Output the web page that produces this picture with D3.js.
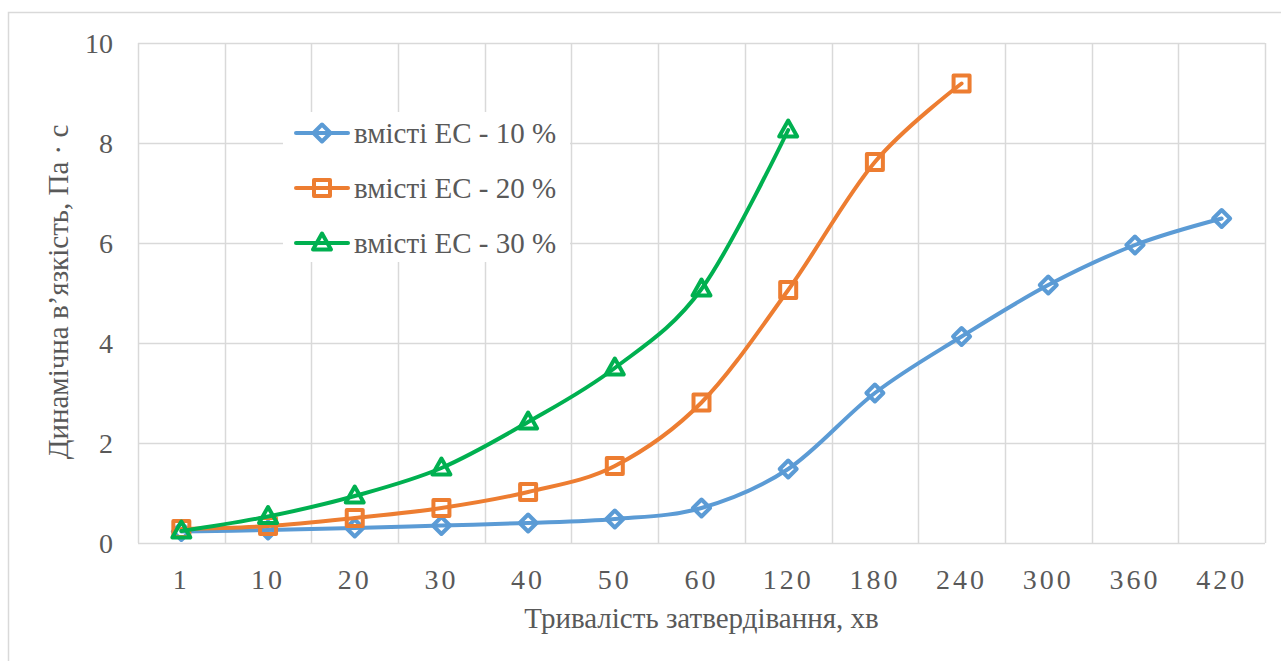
<!DOCTYPE html>
<html>
<head>
<meta charset="utf-8">
<script src="https://cdn.jsdelivr.net/npm/d3@7"></script>
<style>
  body { margin: 0; background: #fff; }
  svg text { font-family: "Liberation Serif", "DejaVu Serif", "Times New Roman", serif !important; fill: #595959; }
</style>
</head>
<body>
<div id="chart"></div>
<script>
// Chart data
var categories = ["1", "10", "20", "30", "40", "50", "60", "120", "180", "240", "300", "360", "420"];
var ec10 = [0.23, 0.26, 0.3, 0.35, 0.4, 0.48, 0.7, 1.48, 3.0, 4.13, 5.16, 5.96, 6.49];
var ec20 = [0.28, 0.34, 0.5, 0.7, 1.02, 1.54, 2.81, 5.06, 7.62, 9.19];
var ec30 = [0.24, 0.53, 0.94, 1.5, 2.42, 3.5, 5.08, 8.26];
var seriesNames = ["вмісті ЕС - 10 %", "вмісті ЕС - 20 %", "вмісті ЕС - 30 %"];
var yTicks = [0, 2, 4, 6, 8, 10];

var svgWidth = 1281;
var svgHeight = 661;

var margin = { top: 43, right: 16, bottom: 118, left: 138 };
var width = svgWidth - margin.left - margin.right;
var height = svgHeight - margin.top - margin.bottom;

var serif = '"Liberation Serif", "DejaVu Serif", serif';

var svg = d3.select("#chart")
  .append("svg")
  .attr("width", svgWidth)
  .attr("height", svgHeight)
  .attr("font-family", serif);

// outer chart border (only top and left fall inside the picture)
svg.append("path")
  .attr("d", "M8.5,661 L8.5,12.5 L1281,12.5")
  .attr("fill", "none")
  .attr("stroke", "#d9d9d9")
  .attr("stroke-width", 1.5);

var chartGroup = svg.append("g")
  .attr("transform", `translate(${margin.left}, ${margin.top})`);

// Scales
var xScale = d3.scaleBand()
  .domain(categories)
  .range([0, width])
  .padding(0);

var yScale = d3.scaleLinear()
  .domain([0, 10])
  .range([height, 0]);

// Gridlines
chartGroup.append("g")
  .selectAll("line")
  .data(yTicks)
  .enter()
  .append("line")
  .attr("x1", 0)
  .attr("x2", width)
  .attr("y1", d => Math.round(yScale(d)) + 0.5)
  .attr("y2", d => Math.round(yScale(d)) + 0.5)
  .attr("stroke", "#d9d9d9")
  .attr("stroke-width", 1.5);

var bounds = categories.map(c => xScale(c)).concat([width]);
chartGroup.append("g")
  .selectAll("line")
  .data(bounds)
  .enter()
  .append("line")
  .attr("x1", d => Math.round(d) + 0.5)
  .attr("x2", d => Math.round(d) + 0.5)
  .attr("y1", 0)
  .attr("y2", height)
  .attr("stroke", "#d9d9d9")
  .attr("stroke-width", 1.5);

// Axes (labels only)
var leftAxis = d3.axisLeft(yScale).tickValues(yTicks).tickSize(0).tickPadding(25);
var yAxisG = chartGroup.append("g").call(leftAxis).attr("font-family", serif);
yAxisG.select(".domain").remove();
yAxisG.selectAll("text")
  .style("font-size", "28px")
  .attr("dy", "0.34em");

var bottomAxis = d3.axisBottom(xScale).tickSize(0).tickPadding(26);
var xAxisG = chartGroup.append("g")
  .attr("transform", `translate(0, ${height})`)
  .call(bottomAxis)
  .attr("font-family", serif);
xAxisG.select(".domain").remove();
xAxisG.selectAll("text")
  .style("font-size", "28px")
  .style("letter-spacing", "3px")
  .attr("dy", "0.71em");

// Lines
var colors = ["#5b9bd5", "#ed7d31", "#00b050"];
var allSeries = [ec10, ec20, ec30];
var markerPaths = [
  "M0,-8.5L8.5,0L0,8.5L-8.5,0Z",
  "M-8,-8H8V8H-8Z",
  "M0,-9.5L9,6.5L-9,6.5Z"
];

var line = d3.line()
  .x((d, i) => xScale(categories[i]) + xScale.bandwidth() / 2)
  .y(d => yScale(d))
  .curve(d3.curveCatmullRom.alpha(0));

allSeries.forEach(function(values, s) {
  chartGroup.append("path")
    .datum(values)
    .attr("d", line)
    .attr("fill", "none")
    .attr("stroke", colors[s])
    .attr("stroke-width", 4)
    .attr("stroke-linecap", "round");

  chartGroup.selectAll(".m" + s)
    .data(values)
    .enter()
    .append("path")
    .attr("class", "m" + s)
    .attr("d", markerPaths[s])
    .attr("transform", (d, i) => `translate(${xScale(categories[i]) + xScale.bandwidth() / 2}, ${yScale(d)})`)
    .attr("fill", "none")
    .attr("stroke", colors[s])
    .attr("stroke-width", 4)
    .attr("stroke-linejoin", "round");
});

// Legend
var legend = svg.append("g");
legend.append("rect")
  .attr("x", 283)
  .attr("y", 112)
  .attr("width", 287)
  .attr("height", 150)
  .attr("fill", "#fff");

seriesNames.forEach(function(name, s) {
  var ly = 133 + s * 55;
  legend.append("line")
    .attr("x1", 296).attr("x2", 348)
    .attr("y1", ly).attr("y2", ly)
    .attr("stroke", colors[s])
    .attr("stroke-width", 4)
    .attr("stroke-linecap", "round");
  legend.append("path")
    .attr("d", markerPaths[s])
    .attr("transform", `translate(322, ${ly})`)
    .attr("fill", "none")
    .attr("stroke", colors[s])
    .attr("stroke-width", 4)
    .attr("stroke-linejoin", "round");
  legend.append("text")
    .attr("x", 354)
    .attr("y", ly)
    .attr("dy", "0.35em")
    .style("font-size", "29px")
    .text(name);
});

// Axis titles
svg.append("text")
  .attr("transform", `translate(68, ${margin.top + height / 2 - 1}) rotate(-90)`)
  .attr("text-anchor", "middle")
  .style("font-size", "29px")
  .text("Динамічна в’язкість, Па · с");

svg.append("text")
  .attr("x", margin.left + width / 2)
  .attr("y", 628)
  .attr("text-anchor", "middle")
  .style("font-size", "29px")
  .text("Тривалість затвердівання, хв");
</script>
</body>
</html>
